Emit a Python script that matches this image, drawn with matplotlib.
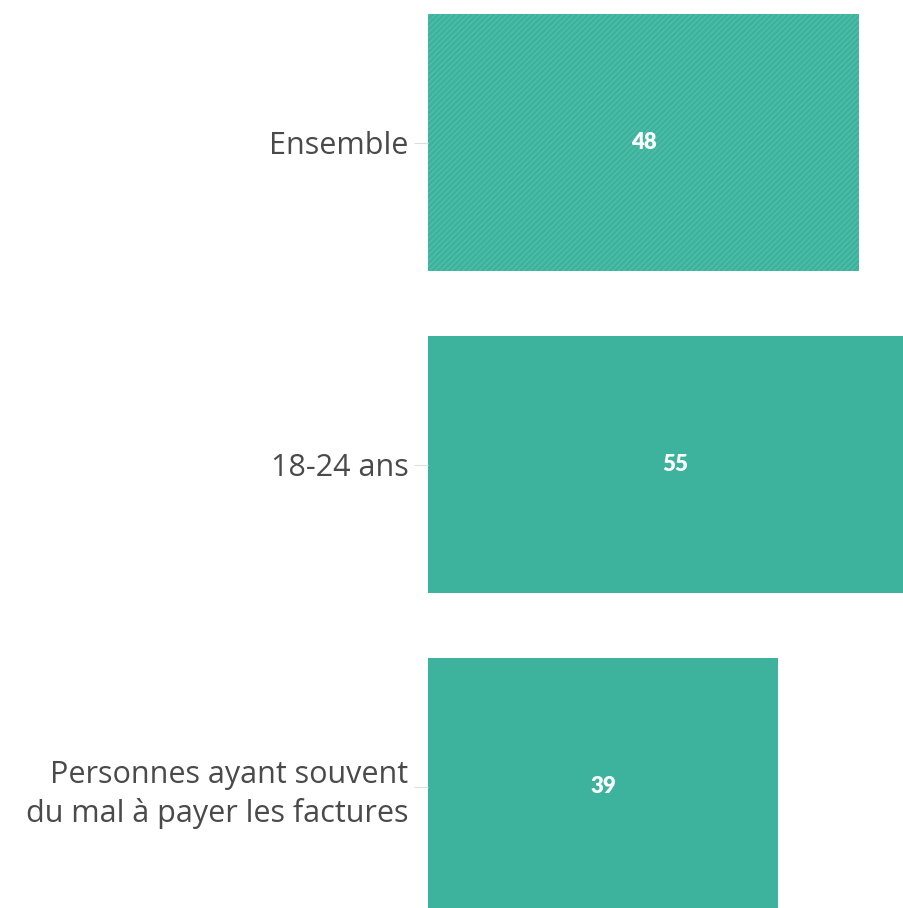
import matplotlib
matplotlib.use("Agg")
import matplotlib.pyplot as plt

categories = ["Ensemble", "18-24 ans", "Personnes ayant souvent\ndu mal à payer les factures"]
values = [48, 55, 39]
hatched = [True, False, False]

bar_color = "#3db39e"
hatch_color = "#5cc2ae"

plt.rcParams['font.family'] = ['Open Sans', 'DejaVu Sans']
plt.rcParams['hatch.linewidth'] = 0.6

fig = plt.figure(figsize=(9.04, 9.08), dpi=100)
ax = fig.add_axes([428/904, 0, 476/904, 1])

ypos = list(range(len(categories)))
for y, v, h in zip(ypos, values, hatched):
    ax.barh(y, v, height=0.798, color=bar_color, edgecolor=hatch_color if h else bar_color,
            hatch='//////' if h else None, linewidth=0)
    ax.text(v / 2, y, str(v), ha='center', va='center', color='white',
            fontsize=16, fontweight='heavy', family=['Lato', 'DejaVu Sans'])

ax.set_xlim(0, 53.0)
ax.set_ylim(2.377, -0.4425)
ax.set_yticks(ypos)
ax.set_yticklabels(categories, fontsize=22, color='#4a4a4a', linespacing=1.36)
ax.tick_params(axis='y', length=10, width=0.8, color='#dddddd', pad=4)
ax.set_xticks([])
for s in ax.spines.values():
    s.set_visible(False)

fig.savefig("out.png", dpi=100)
